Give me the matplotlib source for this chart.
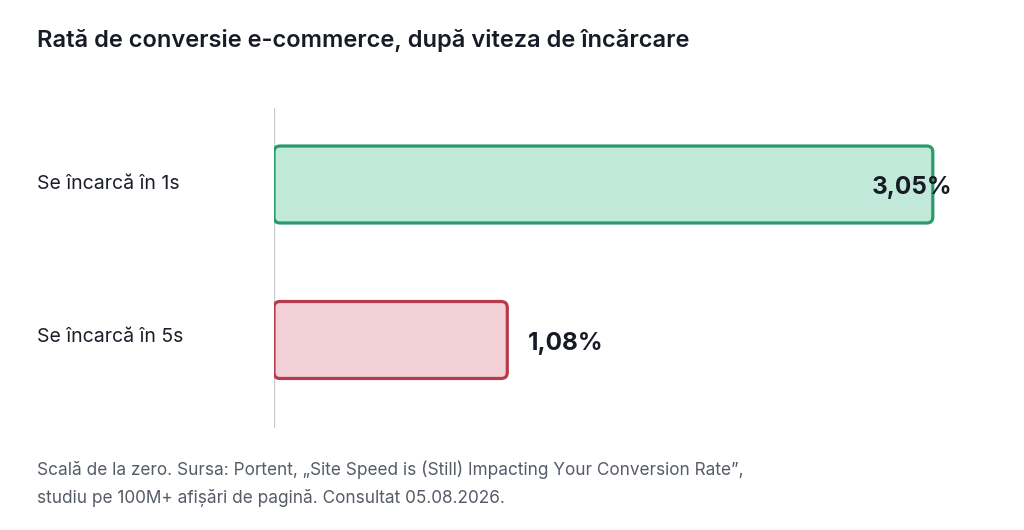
import matplotlib
matplotlib.use("Agg")
import matplotlib.pyplot as plt
from matplotlib.patches import FancyBboxPatch

categories = ["Se încarcă în 1s", "Se încarcă în 5s"]
values = [3.05, 1.08]
value_labels = ["3,05%", "1,08%"]
fills = ["#c1e9d9", "#f3d0d5"]
edges = ["#2a9a6c", "#b63c4d"]

title = "Rată de conversie e-commerce, după viteza de încărcare"
footnote = ("Scală de la zero. Sursa: Portent, „Site Speed is (Still) Impacting Your Conversion Rate”,\n"
            "studiu pe 100M+ afișări de pagină. Consultat 05.08.2026.")

plt.rcParams['font.family'] = ['Inter', 'DejaVu Sans']

W, H = 1024, 530
fig = plt.figure(figsize=(W/100, H/100), dpi=100)
fig.patch.set_facecolor("white")

# axes: x from 274 to 952 px, y from 108 to 428 px
ax = fig.add_axes([274/W, 1-428/H, (952-274)/W, (428-108)/H])
xmax = (952-274)/216.0
ax.set_xlim(0, xmax)
ax.set_ylim(1.566, -0.492)
for s in ax.spines.values():
    s.set_visible(False)
ax.set_xticks([])
ax.set_yticks([])
ax.axvline(0, color="#c9ccd1", lw=1.0, zorder=1)

bh = 0.495
rx = 6/216.0
ry = 6/155.5
bars = ax.barh(range(len(values)), values, height=bh, color="none", edgecolor="none")
for i, b in enumerate(bars):
    x0, y0, w, h = b.get_x(), b.get_y(), b.get_width(), b.get_height()
    p = FancyBboxPatch((x0, y0), w, h,
                       boxstyle=f"round,pad=0,rounding_size={rx}",
                       mutation_aspect=ry/rx,
                       facecolor=fills[i], edgecolor=edges[i], lw=2.3, zorder=2)
    ax.add_patch(p)
    b.set_visible(False)

for i, v in enumerate(values):
    x = v + 21/216.0
    # clamp if text would exceed the right edge
    if x + 78/216.0 > xmax:
        ax.text(xmax, i + 0.02, value_labels[i], ha="right", va="center",
                fontsize=17.5, fontweight="bold", color="#161b26", zorder=3)
    else:
        ax.text(x, i + 0.02, value_labels[i], ha="left", va="center",
                fontsize=17.5, fontweight="bold", color="#161b26", zorder=3)

for i, c in enumerate(categories):
    yp = [184, 337][i]
    fig.text(37/W, 1-yp/H, c, ha="left", va="center", fontsize=14, color="#1b1f2a")

fig.text(37/W, 1-40/H, title, ha="left", va="center", fontsize=17,
         fontweight="semibold", color="#161b26")
fig.text(37/W, 1-484/H, footnote, ha="left", va="center", fontsize=12.4,
         color="#555c68", linespacing=1.7)

fig.savefig("out.png", dpi=100, facecolor="white")
